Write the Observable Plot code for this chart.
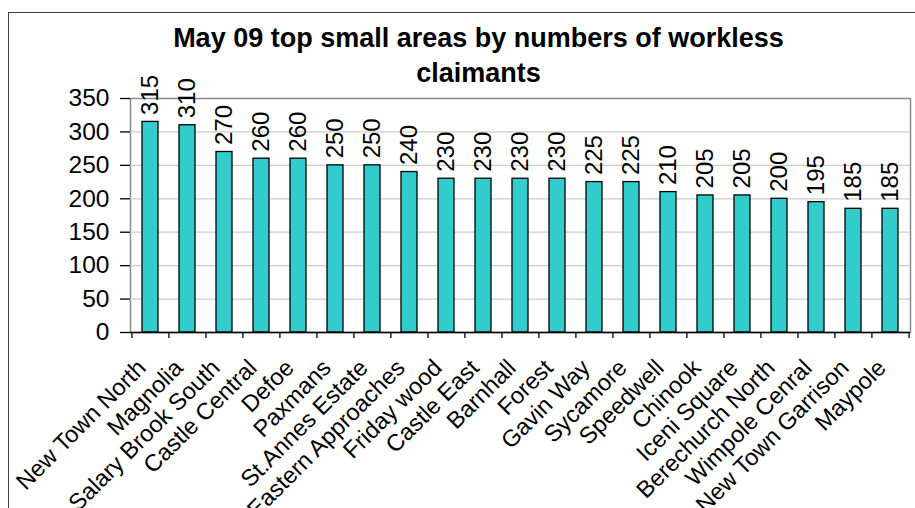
<!DOCTYPE html>
<html>
<head>
<meta charset="utf-8">
<script src="https://cdn.jsdelivr.net/npm/d3@7"></script>
<script src="https://cdn.jsdelivr.net/npm/@observablehq/plot@0.6"></script>
<style>
  html, body { margin: 0; padding: 0; background: #fff; overflow: hidden; }
  #wrap { position: relative; width: 915px; height: 508px; font-family: "Liberation Sans", Arial, sans-serif; }
  #border { position: absolute; left: 8px; top: 12px; width: 930px; height: 520px; border: 1.5px solid #404040; box-sizing: border-box; pointer-events: none; }
  #title { position: absolute; left: 0; width: 957px; top: 21px; text-align: center; font-weight: bold; font-size: 27px; line-height: 35px; color: #000; }
  svg { position: absolute; left: 0; top: 0; }
</style>
</head>
<body>
<div id="wrap">
  <div id="chart"></div>
  <div id="border"></div>
  <div id="title">May 09 top small areas by numbers of workless<br>claimants</div>
</div>
<script>
const areas = ["New Town North", "Magnolia", "Salary Brook South", "Castle Central", "Defoe", "Paxmans", "St.Annes Estate", "Eastern Approaches", "Friday wood", "Castle East", "Barnhall", "Forest", "Gavin Way", "Sycamore", "Speedwell", "Chinook", "Iceni Square", "Berechurch North", "Wimpole Cenral", "New Town Garrison", "Maypole"];
const claimants = [315, 310, 270, 260, 260, 250, 250, 240, 230, 230, 230, 230, 225, 225, 210, 205, 205, 200, 195, 185, 185];
const yTicks = [0, 50, 100, 150, 200, 250, 300, 350];

const data = areas.map((name, i) => ({name, value: claimants[i]}));

const W = 915, H = 508, mL = 130, mR = 5, mT = 98, mB = 176;
const pInner = 0.57, pOuter = 0.28;
const step = (W - mL - mR) / (areas.length - pInner + 2 * pOuter);
const font = "Liberation Sans, Arial, sans-serif";

const chart = Plot.plot({
  width: W,
  height: H,
  marginLeft: mL,
  marginRight: mR,
  marginTop: mT,
  marginBottom: mB,
  style: {fontFamily: font, background: "transparent"},
  x: {domain: areas, paddingInner: pInner, paddingOuter: pOuter, axis: null},
  y: {domain: [0, 350], axis: null},
  marks: [
    Plot.frame({stroke: "#8a8a8a", strokeWidth: 1.5}),
    Plot.ruleY(yTicks.slice(1, -1), {stroke: "#cccccc", strokeWidth: 1.2}),
    Plot.barY(data, {x: "name", y: "value", fill: "#33cccc", stroke: "#000", strokeWidth: 1.3}),
    Plot.ruleY([0], {stroke: "#000", strokeWidth: 1.3}),
    Plot.axisY({ticks: yTicks, label: null, tickSize: 10, tickPadding: 11, fontSize: 24.5, line: true, stroke: "#000", strokeWidth: 1.3, tickFormat: d => String(d)}),
    Plot.ruleX(areas, {x: d => d, dx: -step / 2, y1: () => 0, y2: () => 0, insetBottom: -6, stroke: "#000", strokeWidth: 1.3}),
    Plot.ruleX(areas.slice(-1), {x: d => d, dx: step / 2, y1: () => 0, y2: () => 0, insetBottom: -6, stroke: "#000", strokeWidth: 1.3}),
    Plot.text(data, {x: "name", y: "value", text: d => String(d.value), rotate: -90, textAnchor: "start", lineAnchor: "middle", dy: -7, fontSize: 24}),
    Plot.text(data, {x: "name", y: () => 0, text: "name", rotate: -45, textAnchor: "end", lineAnchor: "top", dx: -15, dy: 25, fontSize: 23.5})
  ]
});
document.getElementById("chart").appendChild(chart);
</script>
</body>
</html>
